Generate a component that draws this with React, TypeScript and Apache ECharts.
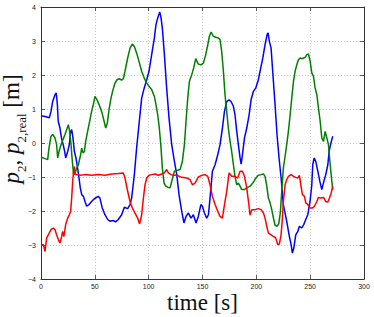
import React, { useEffect, useRef } from "react";
import * as echarts from "echarts";

const xTicks = [0, 50, 100, 150, 200, 250, 300];
const yTicks = [-4, -3, -2, -1, 0, 1, 2, 3, 4];

const p2Blue: [number, number][] = [
  [0,0.80],[3.7,0.78],[7.7,0.74],[9.3,0.93],[10.8,1.22],[13,1.42],[14.2,1.47],[15.2,1.13],[16,0.64],[17.6,0.44],[19,0.15],[20.6,-0.05],[22,-0.25],[22.9,-0.44],[24.8,-0.25],[26.3,-0.05],[27.5,0.34],[28.5,0.39],[29.7,0.15],[31,-0.25],[32.5,-0.44],[34,-0.74],[35.3,-1.03],[36.5,-1.32],[37.8,-1.52],[39.4,-1.57],[40.9,-1.72],[42.4,-1.86],[44.6,-1.81],[47,-1.72],[49.5,-1.64],[53.2,-1.57],[54.7,-1.62],[56.9,-1.91],[59.4,-2.11],[61.9,-2.25],[64,-2.30],[67.1,-2.28],[69.3,-2.32],[71.8,-2.25],[74.9,-2.11],[77.4,-1.89],[80.5,-1.93],[82.7,-1.81],[84.2,-1.62],[86.7,-0.93],[88.8,-0.15],[91,0.54],[93.5,1.32],[95.9,1.62],[98.2,1.86],[100.3,2.11],[102.8,2.6],[105.3,3.09],[106.8,3.48],[108.4,3.68],[110.3,3.85],[111.5,3.68],[112.7,3.38],[114.6,2.6],[116.7,1.62],[118.9,0.74],[121.4,-0.05],[123.9,-0.54],[126.1,-0.93],[128.2,-1.52],[130.7,-2.01],[132.8,-2.35],[134.7,-2.16],[136.9,-2.06],[139.3,-2.21],[141.5,-2.11],[144,-2.35],[146.1,-2.16],[148.5,-1.81],[149.9,-1.86],[151.8,-2.06],[153.9,-2.21],[155.5,-2.11],[157,-1.62],[159.2,-0.83],[161.7,-0.64],[164.2,-0.34],[166.3,-0.05],[168.5,0.44],[170.4,0.93],[172.5,1.22],[174.7,1.27],[176.5,1.22],[178.7,1.08],[180.2,0.83],[181.8,0.34],[183.3,-0.05],[184.9,-0.44],[185.9,-0.62],[187.1,-0.34],[189,0.15],[191.1,0.44],[193.3,0.83],[195.1,1.27],[197.3,1.52],[199.5,1.62],[201.9,1.86],[204.1,2.21],[206,2.5],[208.1,2.89],[210,3.19],[210.9,3.24],[212.1,2.99],[213.7,2.79],[215.2,2.11],[217.4,1.13],[219.2,0.25],[221.1,-0.44],[223,-1.03],[225.1,-1.81],[228.2,-2.30],[230.4,-2.70],[232.3,-2.99],[233.5,-3.24],[234.8,-3.09],[236.6,-2.70],[238.5,-2.60],[240,-2.45],[242.2,-2.50],[244,-2.40],[245.9,-2.25],[247.8,-2.11],[249.9,-1.72],[251.5,-1.23],[252.4,-0.64],[253.7,-0.44],[255.2,-0.54],[257.1,-0.83],[259,-1.13],[260.8,-1.37],[262.7,-1.13],[264.5,-0.93],[266.4,-0.64],[267.6,-0.25],[268.9,-0.05],[270.1,0.10],[271,0.20]
];

const p2Green: [number, number][] = [
  [0,-0.42],[3.7,-0.46],[6.2,-0.49],[7.4,-0.15],[9.3,0.2],[10.8,0.25],[13,0.15],[14.5,-0.05],[15.5,-0.44],[16.7,-0.25],[18.6,-0.05],[20.4,0.1],[22.3,0.25],[23.8,0.39],[25.4,0.54],[26.6,0.34],[27.9,-0.05],[29.1,-0.54],[30.3,-0.93],[31.6,-0.88],[33.1,-0.74],[34.7,-0.64],[36.5,-0.39],[37.8,-0.15],[39,-0.29],[40.3,-0.25],[41.5,0.05],[43.3,0.34],[45.5,0.69],[47,0.93],[48.6,1.13],[50.1,1.37],[52,1.27],[53.9,1.13],[56.3,0.93],[58.2,0.69],[60.1,0.44],[61.6,0.59],[63.2,0.98],[65,1.32],[66.9,1.57],[68.7,1.76],[70.6,1.86],[72.8,1.89],[74.9,1.85],[76.5,1.89],[78,2.11],[80.5,2.5],[82.7,2.79],[84.8,2.91],[86.7,2.84],[88.8,2.65],[91,2.4],[93.5,2.11],[95.9,1.91],[98.2,1.76],[100.3,1.67],[102.8,1.57],[105.3,1.37],[106.8,1.13],[108.4,0.83],[109.9,0.44],[111.5,-0.15],[112.7,-0.74],[114.3,-1.18],[115.8,-1.27],[117.7,-1.30],[119.9,-1.32],[121.4,-1.13],[123.9,-0.83],[126.1,-0.81],[129.2,-0.78],[131.3,-0.54],[133.2,-0.05],[134.7,0.64],[136.3,1.32],[137.8,1.81],[140,2.01],[141.8,2.21],[143.7,2.48],[146.1,2.32],[148.6,2.3],[150.8,2.35],[153,2.6],[154.9,2.89],[156.4,3.14],[158,3.26],[160.1,3.14],[162.3,3.11],[164.7,3.09],[166.3,3.04],[167.8,2.70],[169.4,2.11],[170.9,1.42],[172.5,0.93],[174,0.44],[175.6,0.05],[177.1,-0.25],[178.7,-0.64],[180.2,-0.98],[181.8,-1.23],[183.3,-1.18],[184.9,-1.27],[186.4,-1.37],[189,-1.37],[191.1,-1.32],[194.2,-1.27],[196.7,-1.18],[199.5,-1.03],[201.9,-0.95],[204.4,-0.93],[206.6,-0.91],[208.1,-0.98],[209.7,-1.27],[211.2,-1.62],[212.8,-1.76],[214.3,-1.96],[215.9,-2.21],[217.4,-2.42],[219.2,-2.45],[220.8,-2.38],[222.3,-2.05],[223.6,-1.42],[225.1,-0.74],[226.7,-0.39],[228.2,-0.05],[229.8,0.34],[231.4,0.83],[232.9,1.32],[234.5,1.81],[236,2.11],[237.6,2.30],[239.1,2.45],[240.7,2.50],[242.2,2.48],[243.8,2.5],[245.3,2.52],[246.9,2.6],[248.4,2.62],[250,2.40],[251.5,2.06],[253.1,1.96],[254.6,1.62],[256.2,1.42],[257.7,1.03],[259.3,0.64],[260.8,0.15],[262.4,0.05],[263.9,0.34],[265.5,0.15],[267,-0.05],[268.6,-0.64],[270.1,-1.13],[271,-1.37]
];

const p2Red: [number, number][] = [
  [0,-2.99],[2.2,-2.99],[3.7,-3.19],[5.3,-2.79],[6.8,-2.70],[9.3,-2.55],[11.4,-2.50],[13,-2.55],[14.5,-2.70],[16.1,-2.84],[17.6,-2.94],[19.2,-2.75],[20.1,-2.60],[21.3,-2.75],[22.9,-2.40],[24.8,-2.21],[26.3,-2.11],[27.5,-2.01],[28.5,-1.62],[29.4,-1.13],[30.3,-0.83],[31,-0.69],[31.6,-0.93],[33.1,-0.93],[36.3,-0.95],[40.9,-0.93],[47,-0.95],[53.2,-0.93],[59.4,-0.95],[65.6,-0.91],[71.8,-0.90],[76.5,-0.88],[78,-1.03],[80.5,-1.42],[82.7,-1.72],[84.8,-1.91],[87.3,-2.06],[89.8,-2.21],[91.6,-2.38],[93.5,-2.11],[95.1,-1.62],[96.6,-1.23],[98.2,-1.03],[100.3,-0.95],[102.8,-0.93],[105.9,-0.91],[109,-0.95],[112.1,-0.91],[114.6,-0.88],[116.7,-0.78],[118.3,-0.88],[120.8,-0.93],[123,-0.95],[126.1,-0.95],[130.7,-1.01],[135.4,-1.03],[138.5,-1.08],[140.6,-1.23],[143.1,-1.18],[146.1,-1.0],[149.3,-0.95],[152.4,-0.93],[154.9,-0.98],[157,-1.23],[159.2,-1.57],[161.7,-1.81],[164.2,-2.01],[166.3,-2.16],[168.5,-2.21],[170.4,-1.81],[172.5,-1.42],[174.7,-0.88],[177.1,-0.98],[180.2,-0.98],[182.7,-1.03],[184.9,-0.83],[187.1,-0.83],[189,-0.98],[191.1,-1.32],[192.7,-1.72],[194.2,-2.12],[195.8,-1.96],[198.9,-1.96],[201.9,-1.93],[204.4,-1.96],[206.6,-2.06],[208.1,-2.21],[209.7,-2.45],[211.2,-2.65],[213.7,-2.70],[215.9,-2.75],[218,-2.79],[219.9,-2.99],[221.4,-2.97],[223,-2.70],[224.2,-2.21],[225.1,-1.72],[226.7,-1.23],[228.2,-1.08],[229.8,-0.98],[232.3,-0.93],[234.5,-0.98],[236.6,-1.01],[238.5,-1.03],[240,-0.95],[241.3,-1.23],[242.8,-1.52],[244.7,-1.57],[245.9,-1.76],[247.8,-1.81],[249.9,-1.91],[252.1,-1.91],[254,-1.86],[256.2,-1.72],[257.7,-1.60],[259.9,-1.62],[262.4,-1.60],[264.5,-1.72],[266.4,-1.74],[267.9,-1.62],[269.5,-1.47],[271,-1.27]
];

const xLabel = "time [s]";

export default function App() {
  const ref = useRef<HTMLDivElement>(null);
  useEffect(() => {
    if (!ref.current) return;
    const chart = echarts.init(ref.current, null, { renderer: "svg" });
    const tickFont = { fontFamily: "Liberation Sans", fontSize: 7, color: "#222" };
    const fmt = (v: number) => String(v).replace("-", "\u2212");
    const xMin = xTicks[0], xMax = xTicks[xTicks.length - 1];
    const yMin = yTicks[0], yMax = yTicks[yTicks.length - 1];
    const xInt = xTicks[1] - xTicks[0];
    const yInt = yTicks[1] - yTicks[0];
    const frame = { show: true, onZero: false, lineStyle: { color: "#333", width: 1 } };
    const tick = { show: true, inside: true, length: 4, lineStyle: { color: "#333", width: 0.8 } };
    const line = (data: [number, number][], color: string) => ({
      type: "line",
      data,
      showSymbol: false,
      symbol: "none",
      lineStyle: { color, width: 1.5 },
      itemStyle: { color },
    });
    const serif = "Liberation Serif";
    chart.setOption({
      animation: false,
      backgroundColor: "#fff",
      grid: { left: 41, right: 10, top: 7, bottom: 38 },
      xAxis: [
        {
          type: "value", min: xMin, max: xMax, interval: xInt,
          axisLine: frame, axisTick: tick,
          axisLabel: { ...tickFont, margin: 4, formatter: fmt },
          splitLine: { show: true, lineStyle: { color: "#bbb", type: [1, 2], width: 0.8 } },
        },
        {
          type: "value", position: "top", min: xMin, max: xMax, interval: xInt,
          axisLine: frame, axisTick: tick, axisLabel: { show: false }, splitLine: { show: false },
        },
      ],
      yAxis: [
        {
          type: "value", min: yMin, max: yMax, interval: yInt,
          axisLine: frame, axisTick: tick,
          axisLabel: { ...tickFont, margin: 5, formatter: fmt },
          splitLine: { show: true, lineStyle: { color: "#bbb", type: [1, 2], width: 0.8 } },
        },
        {
          type: "value", position: "right", min: yMin, max: yMax, interval: yInt,
          axisLine: frame, axisTick: tick, axisLabel: { show: false }, splitLine: { show: false },
        },
      ],
      series: [line(p2Blue, "#0000ff"), line(p2Green, "#008000"), line(p2Red, "#ff0000")],
      graphic: [
        {
          type: "text",
          x: 202.5,
          y: 302,
          style: {
            text: xLabel,
            fontFamily: serif,
            fontSize: 23,
            fill: "#111",
            align: "center",
            verticalAlign: "middle",
          },
        },
        {
          type: "text",
          x: 16,
          y: 129,
          rotation: Math.PI / 2,
          style: {
            text: "{p|p}{s|2}{n|, }{p|p}{s|2,real}{n| [m]}",
            align: "center",
            verticalAlign: "middle",
            fill: "#111",
            rich: {
              p: { fontFamily: serif, fontStyle: "italic", fontSize: 23, lineHeight: 23, verticalAlign: "bottom", padding: [0, 0, 5, 0], fill: "#111" },
              n: { fontFamily: serif, fontSize: 23, lineHeight: 23, verticalAlign: "bottom", padding: [0, 0, 5, 0], fill: "#111" },
              s: { fontFamily: serif, fontSize: 13, lineHeight: 13, verticalAlign: "bottom", fill: "#111" },
            },
          },
        },
      ],
    });
    return () => chart.dispose();
  }, []);
  return <div ref={ref} style={{ position: "fixed", left: 0, top: 0, width: 374, height: 317 }} />;
}
